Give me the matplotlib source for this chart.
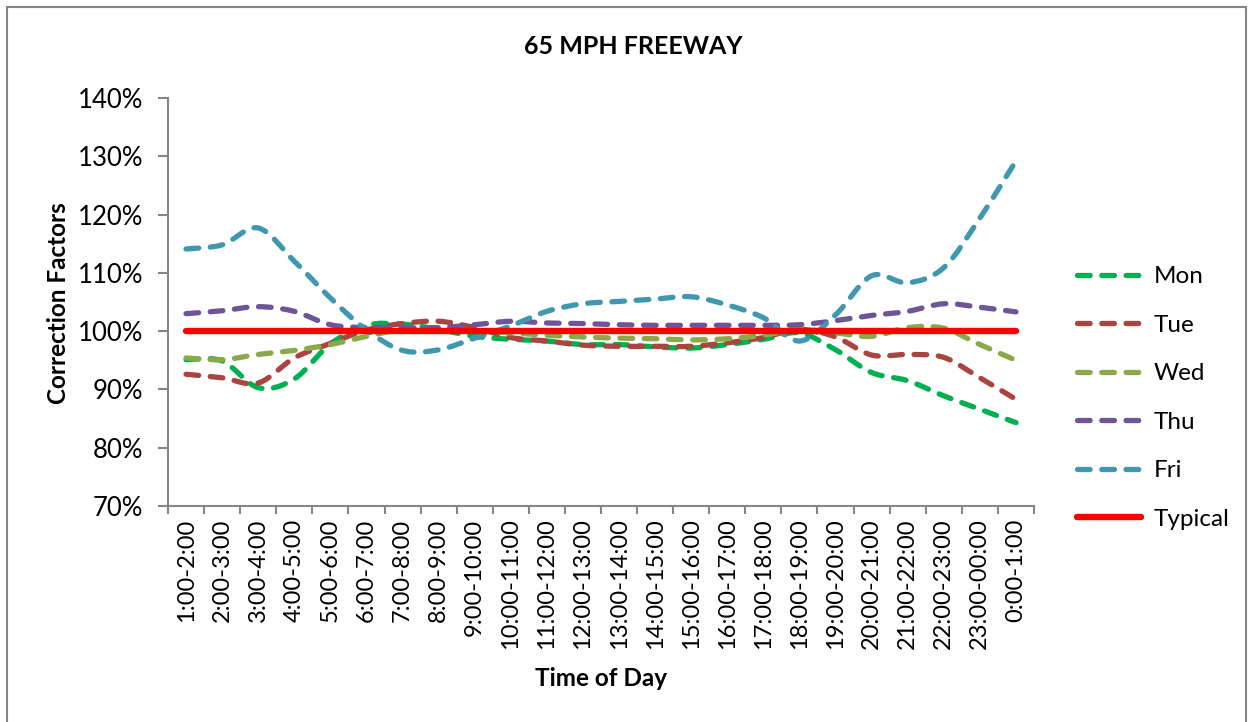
import numpy as np
import matplotlib
matplotlib.use("Agg")
import matplotlib.pyplot as plt
from matplotlib.path import Path
from matplotlib.patches import PathPatch, Rectangle
from matplotlib.lines import Line2D
from matplotlib.ticker import PercentFormatter

plt.rcParams['font.family'] = ['Lato', 'DejaVu Sans']

#=====data (correction factors, %)=====
hours = ['1:00-2:00', '2:00-3:00', '3:00-4:00', '4:00-5:00', '5:00-6:00', '6:00-7:00',
         '7:00-8:00', '8:00-9:00', '9:00-10:00', '10:00-11:00', '11:00-12:00', '12:00-13:00',
         '13:00-14:00', '14:00-15:00', '15:00-16:00', '16:00-17:00', '17:00-18:00', '18:00-19:00',
         '19:00-20:00', '20:00-21:00', '21:00-22:00', '22:00-23:00', '23:00-00:00', '0:00-1:00']
mon = [95.1, 94.9, 90.3, 91.8, 97.8, 101.0, 101.2, 100.3, 99.1, 98.6, 98.3, 97.7,
       97.7, 97.3, 97.1, 97.7, 98.6, 99.7, 96.8, 92.9, 91.5, 88.9, 86.6, 84.3]
tue = [92.6, 92.0, 91.1, 95.4, 97.9, 100.2, 101.3, 101.7, 100.6, 98.9, 98.3, 97.6,
       97.4, 97.4, 97.4, 98.0, 98.9, 100.3, 99.0, 95.9, 96.0, 95.5, 92.0, 88.3]
wed = [95.4, 95.1, 96.0, 96.7, 97.7, 99.1, 100.3, 100.5, 100.0, 99.7, 99.3, 99.0,
       98.8, 98.7, 98.5, 98.7, 99.3, 100.3, 99.7, 99.1, 100.6, 100.5, 97.7, 95.0]
thu = [103.0, 103.5, 104.2, 103.4, 101.1, 100.6, 100.6, 100.6, 101.1, 101.7, 101.4, 101.3,
       101.1, 101.0, 101.0, 101.0, 101.0, 101.1, 101.8, 102.7, 103.4, 104.7, 104.1, 103.3]
fri = [114.1, 114.8, 117.7, 112.0, 105.7, 100.2, 96.7, 96.8, 98.8, 100.9, 103.4, 104.7,
       105.1, 105.5, 105.9, 104.5, 102.3, 98.3, 102.8, 109.5, 108.3, 110.9, 119.4, 129.2]
typical = [100] * 24

series = [('Mon', mon, '#00B050'), ('Tue', tue, '#A9443E'), ('Wed', wed, '#8BA94B'),
          ('Thu', thu, '#6F5597'), ('Fri', fri, '#3F98B0')]


def smooth_path(xs, ys):
    # excel-like smoothed line: bezier segments through every point
    p = np.column_stack([xs, ys]).astype(float)
    n = len(p)
    verts = [p[0]]
    codes = [Path.MOVETO]
    for i in range(n - 1):
        p0 = p[i - 1] if i > 0 else p[i]
        p3 = p[i + 2] if i + 2 < n else p[i + 1]
        c1 = p[i] + (p[i + 1] - p0) / 6.0
        c2 = p[i + 1] - (p3 - p[i]) / 6.0
        verts += [c1, c2, p[i + 1]]
        codes += [Path.CURVE4] * 3
    return Path(verts, codes)


fig = plt.figure(figsize=(12.53, 7.22), dpi=100)
ax = fig.add_axes([168 / 1253, 1 - 506 / 722, 866 / 1253, 408 / 722])

x = np.arange(len(hours))
handles = []
for name, vals, col in series:
    patch = PathPatch(smooth_path(x, vals), fill=False, edgecolor=col, lw=3.8,
                      linestyle=(0, (2.4, 2.2)), capstyle='round', joinstyle='round')
    ax.add_patch(patch)
    handles.append(Line2D([], [], color=col, lw=3.8, linestyle=(0, (2.4, 2.2)),
                          dash_capstyle='round'))
ax.plot(x, typical, color='#FF0000', lw=4.6, solid_capstyle='round')
handles.append(Line2D([], [], color='#FF0000', lw=4.6, solid_capstyle='round'))

ax.set_xlim(-0.5, len(hours) - 0.5)
ax.set_ylim(70, 140)
ax.set_yticks(np.arange(70, 141, 10))
ax.yaxis.set_major_formatter(PercentFormatter(decimals=0))

ax.set_xticks(np.arange(-0.5, len(hours), 1))
ax.set_xticklabels([])
ax.set_xticks(x, minor=True)
ax.set_xticklabels(hours, minor=True, rotation=90, fontsize=17)
ax.tick_params(axis='x', which='major', length=6, width=1.5, color='#868686', direction='out')
ax.tick_params(axis='x', which='minor', length=0, pad=9)
ax.tick_params(axis='y', length=7, width=1.5, color='#868686', labelsize=18.5, pad=11)

for s in ['top', 'right']:
    ax.spines[s].set_visible(False)
for s in ['left', 'bottom']:
    ax.spines[s].set_color('#868686')
    ax.spines[s].set_linewidth(1.5)

fig.text(633 / 1253, 1 - 47 / 722, '65 MPH FREEWAY', fontsize=18, fontweight='bold',
         ha='center', va='center')
fig.text(601 / 1253, 1 - 678 / 722, 'Time of Day', fontsize=17.5, fontweight='bold',
         ha='center', va='center')
fig.text(58 / 1253, 1 - 303 / 722, 'Correction Factors', fontsize=17.5, fontweight='bold',
         ha='center', va='center', rotation=90)

fig.legend(handles, ['Mon', 'Tue', 'Wed', 'Thu', 'Fri', 'Typical'], loc='center left',
           bbox_to_anchor=(1055 / 1253, 1 - 398 / 722), frameon=False, fontsize=17.5,
           handlelength=2.65, handletextpad=0.5, labelspacing=1.13)

fig.patches.append(Rectangle((7 / 1253, -0.05), 1239 / 1253, 1.05 - 7 / 722,
                             transform=fig.transFigure, fill=False,
                             edgecolor='#868686', lw=1.5))

fig.savefig('out.png', dpi=100)
